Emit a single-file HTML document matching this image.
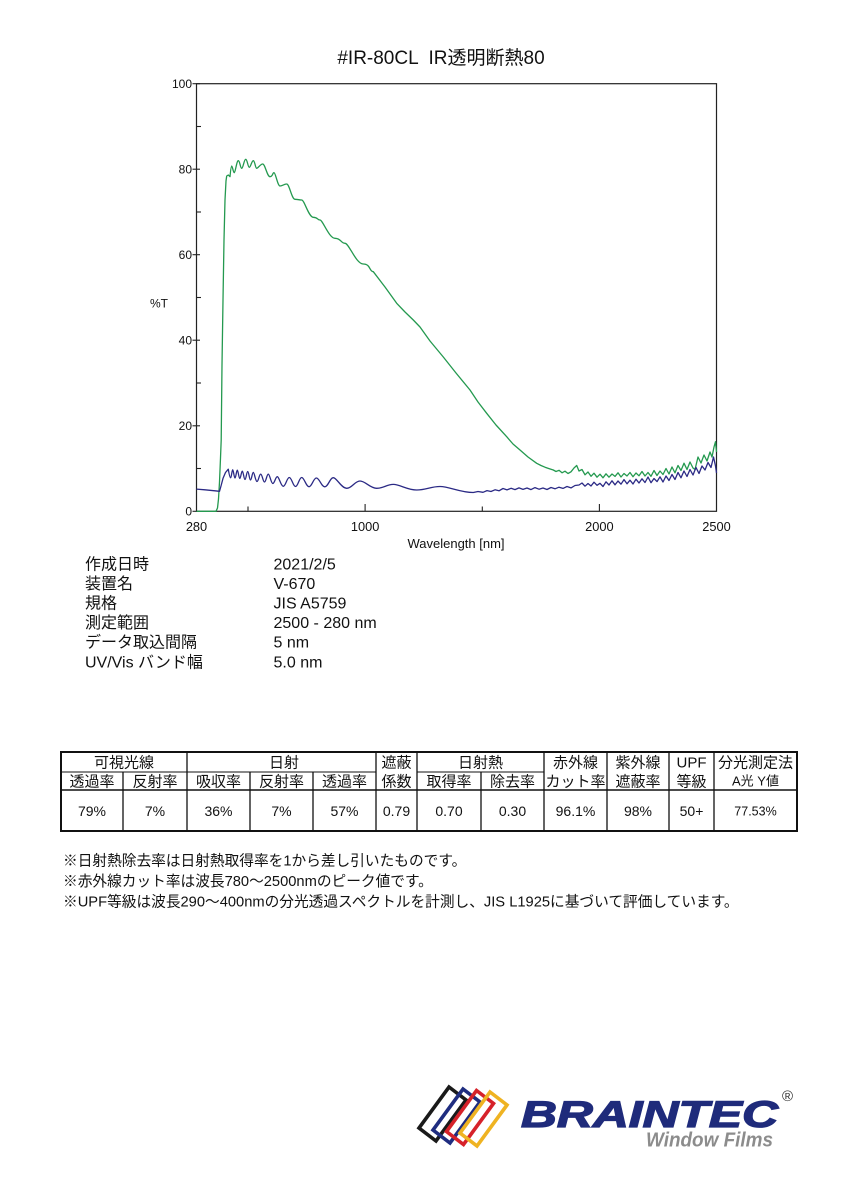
<!DOCTYPE html>
<html>
<head>
<meta charset="utf-8">
<style>
html,body{margin:0;padding:0;background:#fff;}
svg{display:block;}
text{font-family:"Liberation Sans","Noto Sans CJK JP",sans-serif;fill:#111;}
</style>
</head>
<body>
<svg width="848" height="1200" viewBox="0 0 848 1200" xmlns="http://www.w3.org/2000/svg">
<rect x="0" y="0" width="848" height="1200" fill="#fff"/>

<!-- Title -->
<text x="441" y="64" font-size="19" text-anchor="middle" style="white-space:pre">#IR-80CL  IR透明断熱80</text>

<!-- Plot frame -->
<rect x="196.5" y="83.7" width="520" height="427.6" fill="none" stroke="#222" stroke-width="1.2"/>

<!-- Y ticks -->
<g stroke="#222" stroke-width="1.1">
<line x1="192.5" y1="83.7" x2="200" y2="83.7"/>
<line x1="192.5" y1="169.2" x2="200" y2="169.2"/>
<line x1="192.5" y1="254.7" x2="200" y2="254.7"/>
<line x1="192.5" y1="340.2" x2="200" y2="340.2"/>
<line x1="192.5" y1="425.8" x2="200" y2="425.8"/>
<line x1="192.5" y1="511.3" x2="200" y2="511.3"/>
<line x1="196.5" y1="126.5" x2="201" y2="126.5"/>
<line x1="196.5" y1="212" x2="201" y2="212"/>
<line x1="196.5" y1="297.5" x2="201" y2="297.5"/>
<line x1="196.5" y1="383" x2="201" y2="383"/>
<line x1="196.5" y1="468.5" x2="201" y2="468.5"/>
<!-- X ticks -->
<line x1="365.1" y1="504" x2="365.1" y2="511.3"/>
<line x1="599.4" y1="504" x2="599.4" y2="511.3"/>
<line x1="248" y1="506.5" x2="248" y2="511.3"/>
<line x1="482.3" y1="506.5" x2="482.3" y2="511.3"/>
</g>

<!-- Y labels -->
<g font-size="12" text-anchor="end">
<text x="192" y="88">100</text>
<text x="192" y="173.5">80</text>
<text x="192" y="259">60</text>
<text x="192" y="344.5">40</text>
<text x="192" y="430">20</text>
<text x="192" y="515.6">0</text>
</g>
<text x="150" y="307.5" font-size="12">%T</text>

<!-- X labels -->
<g font-size="12.8" text-anchor="middle">
<text x="196.5" y="531">280</text>
<text x="365.1" y="531">1000</text>
<text x="599.4" y="531">2000</text>
<text x="716.5" y="531">2500</text>
</g>
<text x="456" y="548" font-size="13" text-anchor="middle">Wavelength [nm]</text>

<!-- Green curve -->
<path fill="none" stroke="#24994f" stroke-width="1.3" stroke-linejoin="round" d="M196.5,511.3 L216,511.3 L217.5,508 L218.5,499 L219.5,482 L220.5,458 L221.2,440 L222,365 L223,300 L224,240 L225,200 L226,181 L226.7,176 L228.3,175 L230,176.7
S231,166 231.7,166 S233.3,172.7 234.3,172.7 S236.7,160.7 238.3,160.7 S240.3,168.3 241.7,168.3 S244.1,159.3 245.7,159.3 S247.9,167.3 249.3,167.3 S251.7,160.7 253.3,160.7 S255.3,168.3 256.7,168.3 S260.3,164 262.7,164 S267.1,176.7 270,176.7 S272.4,172.7 274,172.7 S277.6,186 280,186 S284,184 286.7,184 S291.7,199.3 295,199.3 S299,200 301.7,200 S308.7,217.3 313.3,217.3 S317.3,220 320,220 S329,238.3 335,238.3 S341,243.3 345,243.3 S356,264 363.3,264 S369.3,271.7 373.3,271.7
L385,287 L396.7,303.3 L405,312 L413.3,320 L420,327 L430,341 L443.3,357 L456,373 L470,390 L478,402 L486.7,413.3 L496,425 L506.7,436.7 L513,444 L520,450 L528,457 L536.7,463.3 L541,465.5 L545,467.2 L549,468.6 L553.3,470 L556,471.5 L559,470.3 L562,472.8 L565,471.2 L568,473.5 L571,471.8 L574,468 L576.7,465.5 L579,471 L582,469.5 L585,474.8 L588,472 L591,476.3 L594,473.2 L597,477.2 L600,474.2 L603,477.8 L606,473.8 L609,477.2 L612,474 L615,476.4 L618,472.8 L621,477 L624,473.5 L627,476 L630,472.5 L633,476.7 L636,473 L639,475.8 L642,471.5 L645,476 L648,472.5 L651,476.3 L654,470.5 L657,475.5 L660,471 L663,474.5 L666,468.5 L669,474 L672,467 L675,472.8 L678,465.5 L681,470.5 L684,463.2 L687,469.5 L690,462 L693,468 L695,469.5 L698,457 L701,463 L704,455 L707,461 L710,452 L712,457 L714,447 L715.5,441.7 L716.5,452"/>

<!-- Blue curve -->
<path fill="none" stroke="#2b2a85" stroke-width="1.3" stroke-linejoin="round" d="M196.5,489.1 L205,489.8 L215,490.8 L219.5,491.3 L221,486 L223,478.4 L225.5,472.5 L228.3,469.2
S229.7,477.8 230.6,477.8 S231.9,469.8 232.7,469.8 S234.1,478 235,478 S236.4,470.2 237.3,470.2 S238.8,478.5 239.8,478.5 S241.3,471.1 242.3,471.1 S243.9,479.5 245,479.5 S246.6,471.5 247.7,471.5 S249.4,480 250.5,480 S252.2,472.4 253.3,472.4 S255.5,481.5 257,481.5 S259.2,474.1 260.7,474.1 S263,482 264.5,482 S266.8,474.1 268.3,474.1 S271,483.5 272.8,483.5 S275.5,476.7 277.3,476.7 S280.9,486.3 283.3,486.3 S286.9,477.5 289.3,477.5 S293,486.5 295.5,486.5 S299.2,477.5 301.7,477.5 S306.1,486.7 309,486.7 S313.4,478 316.4,478 S321.4,486.8 324.8,486.8 S329.9,477.7 333.3,477.7 S341.3,488.3 346.7,488.3 S354.7,481 360,481 S370,488.3 376.7,488.3 S386.7,484.4 393.3,484.4 S407.3,490 416.7,490 S430.7,486.5 440,486.5 S460,492.5 473.3,492.5
L478,491.5 L483,492.3 L487,490.6 L491,491.5 L495,489.8 L499,490.8 L503,488.5 L507,489.9 L511,488.3 L515,489.6 L519,487.9 L523,489.4 L527,488 L531,489.6 L535,487.6 L539,489.2 L543,488 L547,489.5 L551,487.5 L555,488.8 L559,487.2 L563,488.4 L567,486.5 L571,487.9 L575,485.5 L579,485 L582,483 L585,486.2 L588,483.5 L591,486 L594,482.2 L597,485.3 L600,483.3 L603,486.5 L606,481.8 L609,485 L612,480.8 L615,484.8 L618,481 L621,484.2 L624,479.6 L627,483.8 L630,480.2 L633,484 L636,479.2 L639,483 L642,478.8 L645,482.5 L648,477 L651,482.7 L654,478.5 L657,481.6 L660,476.8 L663,482 L666,476 L669,480.5 L672,474.5 L675,479.5 L678,472.5 L681,477.8 L684,471 L687,476.5 L690,469.5 L693,475 L696,467.5 L699,473.5 L702,466 L705,470 L708,462.5 L711,467.5 L713.5,457 L715.5,466 L716.5,473"/>

<!-- Info block -->
<g font-size="16">
<text x="85" y="569.5">作成日時</text>
<text x="273.5" y="569.5">2021/2/5</text>
<text x="85" y="589">装置名</text>
<text x="273.5" y="589">V-670</text>
<text x="85" y="608.5">規格</text>
<text x="273.5" y="608.5">JIS A5759</text>
<text x="85" y="628">測定範囲</text>
<text x="273.5" y="628">2500 - 280 nm</text>
<text x="85" y="647.5">データ取込間隔</text>
<text x="273.5" y="647.5">5 nm</text>
<text x="85" y="667.5">UV/Vis バンド幅</text>
<text x="273.5" y="667.5">5.0 nm</text>
</g>

<!-- Table -->
<g stroke="#111" fill="none">
<rect x="61" y="752" width="736" height="79" stroke-width="2"/>
<line x1="61" y1="772" x2="376" y2="772" stroke-width="1"/>
<line x1="417" y1="772" x2="544" y2="772" stroke-width="1"/>
<line x1="61" y1="790" x2="797" y2="790" stroke-width="1.5"/>
<g stroke-width="1.3">
<line x1="187" y1="752" x2="187" y2="831"/>
<line x1="376" y1="752" x2="376" y2="831"/>
<line x1="417" y1="752" x2="417" y2="831"/>
<line x1="544" y1="752" x2="544" y2="831"/>
<line x1="607" y1="752" x2="607" y2="831"/>
<line x1="669" y1="752" x2="669" y2="831"/>
<line x1="714" y1="752" x2="714" y2="831"/>
<line x1="123" y1="772" x2="123" y2="831"/>
<line x1="250" y1="772" x2="250" y2="831"/>
<line x1="313" y1="772" x2="313" y2="831"/>
<line x1="481" y1="772" x2="481" y2="831"/>
</g>
</g>
<g font-size="15" text-anchor="middle">
<text x="124" y="767.5">可視光線</text>
<text x="284" y="767.5">日射</text>
<text x="396.5" y="767.5">遮蔽</text>
<text x="480.5" y="767.5">日射熱</text>
<text x="575.5" y="767.5">赤外線</text>
<text x="638" y="767.5">紫外線</text>
<text x="691.5" y="767.5">UPF</text>
<text x="755.5" y="767.5">分光測定法</text>
<text x="92" y="786.5">透過率</text>
<text x="155" y="786.5">反射率</text>
<text x="218.5" y="786.5">吸収率</text>
<text x="281.5" y="786.5">反射率</text>
<text x="344.5" y="786.5">透過率</text>
<text x="396.5" y="786.5">係数</text>
<text x="449" y="786.5">取得率</text>
<text x="512.5" y="786.5">除去率</text>
<text x="575.5" y="786.5">カット率</text>
<text x="638" y="786.5">遮蔽率</text>
<text x="691.5" y="786.5">等級</text>
<text x="755.5" y="785.5" font-size="13">A光 Y値</text>
</g>
<g font-size="14" text-anchor="middle">
<text x="92" y="816">79%</text>
<text x="155" y="816">7%</text>
<text x="218.5" y="816">36%</text>
<text x="281.5" y="816">7%</text>
<text x="344.5" y="816">57%</text>
<text x="396.5" y="816">0.79</text>
<text x="449" y="816">0.70</text>
<text x="512.5" y="816">0.30</text>
<text x="575.5" y="816">96.1%</text>
<text x="638" y="816">98%</text>
<text x="691.5" y="816">50+</text>
<text x="755.5" y="815.5" font-size="12.5">77.53%</text>
</g>

<!-- Notes -->
<g font-size="14.7">
<text x="63" y="865.5">※日射熱除去率は日射熱取得率を1から差し引いたものです。</text>
<text x="63" y="886">※赤外線カット率は波長780～2500nmのピーク値です。</text>
<text x="63" y="906.5">※UPF等級は波長290～400nmの分光透過スペクトルを計測し、JIS L1925に基づいて評価しています。</text>
</g>

<!-- Logo -->
<g fill="none" stroke-width="3.6" stroke-linejoin="miter">
<polygon transform="translate(449,1087)" points="0,0 17,13 -13,54 -30,41" stroke="#1a1a1a"/>
<polygon transform="translate(463,1089)" points="0,0 17,13 -13,54 -30,41" stroke="#1f2d80"/>
<polygon transform="translate(476.5,1090.5)" points="0,0 17,13 -13,54 -30,41" stroke="#d6222a"/>
<polygon transform="translate(490,1092)" points="0,0 17,13 -13,54 -30,41" stroke="#efb322"/>
</g>
<text x="521" y="1127" font-size="37" font-weight="bold" font-style="italic" textLength="257" lengthAdjust="spacingAndGlyphs" style="fill:#1f2b7b;stroke:#1f2b7b;stroke-width:1.3">BRAINTEC</text>
<text x="782" y="1101" font-size="15" style="fill:#333">®</text>
<text x="646" y="1146.5" font-size="20" font-weight="bold" font-style="italic" textLength="127" lengthAdjust="spacingAndGlyphs" style="fill:#8c8c8c">Window Films</text>
</svg>
</body>
</html>
